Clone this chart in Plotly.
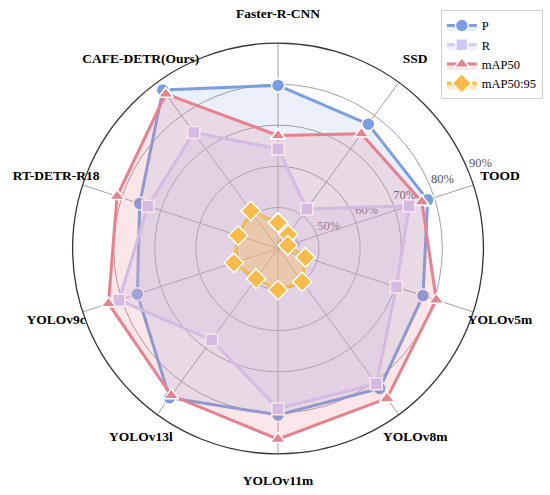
import plotly.graph_objects as go

categories = ["Faster-R-CNN", "SSD", "TOOD", "YOLOv5m", "YOLOv8m",
              "YOLOv11m", "YOLOv13l", "YOLOv9c", "RT-DETR-R18", "CAFE-DETR(Ours)"]
P = [79.7, 77.4, 78.3, 77.1, 82.1, 80.5, 84.9, 76.0, 75.4, 87.7]
R = [64.3, 51.9, 73.6, 70.3, 80.7, 79.0, 67.5, 80.7, 73.3, 74.9]
mAP50 = [67.5, 74.5, 76.8, 80.5, 85.1, 86.4, 84.2, 83.4, 81.2, 86.5]
mAP50_95 = [46.3, 44.2, 42.5, 47.0, 50.0, 50.1, 49.1, 51.3, 50.2, 51.3]
radial_ticks = [40, 50, 60, 70, 80, 90]
radial_ticktext = [f"{v}%" for v in radial_ticks]

W, H = 550, 495
R_MIN, R_MAX = 40, 90
DOM_X = [0.127, 0.884]
DOM_Y = [0.083, 0.913]

series = [
    ("P", P, "#7b9ee0", "rgba(123,158,224,0.16)", "circle", 13),
    ("R", R, "#cfcaf8", "rgba(205,200,247,0.28)", "square", 12),
    ("mAP50", mAP50, "#e8818e", "rgba(232,129,142,0.20)", "triangle-up", 13),
    ("mAP50:95", mAP50_95, "#f6bb4b", "rgba(246,187,75,0.35)", "diamond", 15),
]

# ---- underlay polar (same centre, wider radial range) that carries the text labels
cx_px = (DOM_X[0] + DOM_X[1]) / 2 * W
cy_px = (1 - (DOM_Y[0] + DOM_Y[1]) / 2) * H
rad_px = min((DOM_X[1] - DOM_X[0]) * W, (DOM_Y[1] - DOM_Y[0]) * H) / 2
px_per_unit = rad_px / (R_MAX - R_MIN)
U_MAX = 100
u_rad = rad_px * (U_MAX - R_MIN) / (R_MAX - R_MIN)
U_DOM_X = [(cx_px - u_rad) / W, (cx_px + u_rad) / W]
U_DOM_Y = [max(0.0, 1 - (cy_px + u_rad) / H), min(1.0, 1 - (cy_px - u_rad) / H)]

n = len(categories)
cat_angles = [90 - 360 * i / n for i in range(n)]
CAT_LABEL_R = R_MAX + 28 / px_per_unit
TICK_LABEL_ANGLE = 22.7
tick_label_r = [v + 14 / px_per_unit if v > R_MIN else v + 11 / px_per_unit for v in radial_ticks]

fig = go.Figure()
fig.add_trace(go.Scatterpolar(
    r=tick_label_r, theta=[TICK_LABEL_ANGLE] * len(radial_ticks),
    mode="text", text=radial_ticktext, textposition="middle center",
    textfont=dict(family="Liberation Serif", size=12.5, color="#555555"),
    subplot="polar", showlegend=False, hoverinfo="skip", cliponaxis=False,
))
fig.add_trace(go.Scatterpolar(
    r=[CAT_LABEL_R] * n, theta=cat_angles,
    mode="text", text=categories, textposition="middle center",
    textfont=dict(family="Liberation Serif", size=13.5, color="black", weight="bold"),
    subplot="polar", showlegend=False, hoverinfo="skip", cliponaxis=False,
))

# ---- main radar chart
for name, vals, line_c, fill_c, sym, size in series:
    fig.add_trace(go.Scatterpolar(
        r=vals + vals[:1],
        theta=categories + categories[:1],
        name=name,
        mode="lines+markers",
        line=dict(color=line_c, width=3),
        marker=dict(symbol=sym, size=size, color=line_c,
                    line=dict(color="white", width=1.5)),
        fill="toself",
        fillcolor=fill_c,
        subplot="polar2",
    ))

fig.update_layout(
    width=W, height=H,
    margin=dict(l=0, r=0, t=0, b=0),
    paper_bgcolor="white",
    font=dict(family="Liberation Serif", color="black"),
    polar=dict(
        domain=dict(x=U_DOM_X, y=U_DOM_Y),
        bgcolor="white",
        radialaxis=dict(range=[R_MIN, U_MAX], visible=False),
        angularaxis=dict(visible=False, direction="counterclockwise", rotation=0),
    ),
    polar2=dict(
        domain=dict(x=DOM_X, y=DOM_Y),
        bgcolor="rgba(0,0,0,0)",
        radialaxis=dict(
            range=[R_MIN, R_MAX], tickvals=radial_ticks,
            showticklabels=False, showline=False, ticks="",
            gridcolor="#a0a0a0", gridwidth=1,
        ),
        angularaxis=dict(
            direction="clockwise", rotation=90,
            linecolor="#333333", linewidth=1.3,
            gridcolor="#a0a0a0", gridwidth=1,
            ticks="", showticklabels=False,
        ),
    ),
    legend=dict(
        x=0.987, y=0.98, xanchor="right", yanchor="top",
        bgcolor="white", bordercolor="#d0d0d0", borderwidth=1,
        font=dict(family="Liberation Serif", size=12.5, color="black"),
    ),
)

fig.write_html("out.html", config={"displayModeBar": False},
               post_script="document.body.style.margin='0';")
